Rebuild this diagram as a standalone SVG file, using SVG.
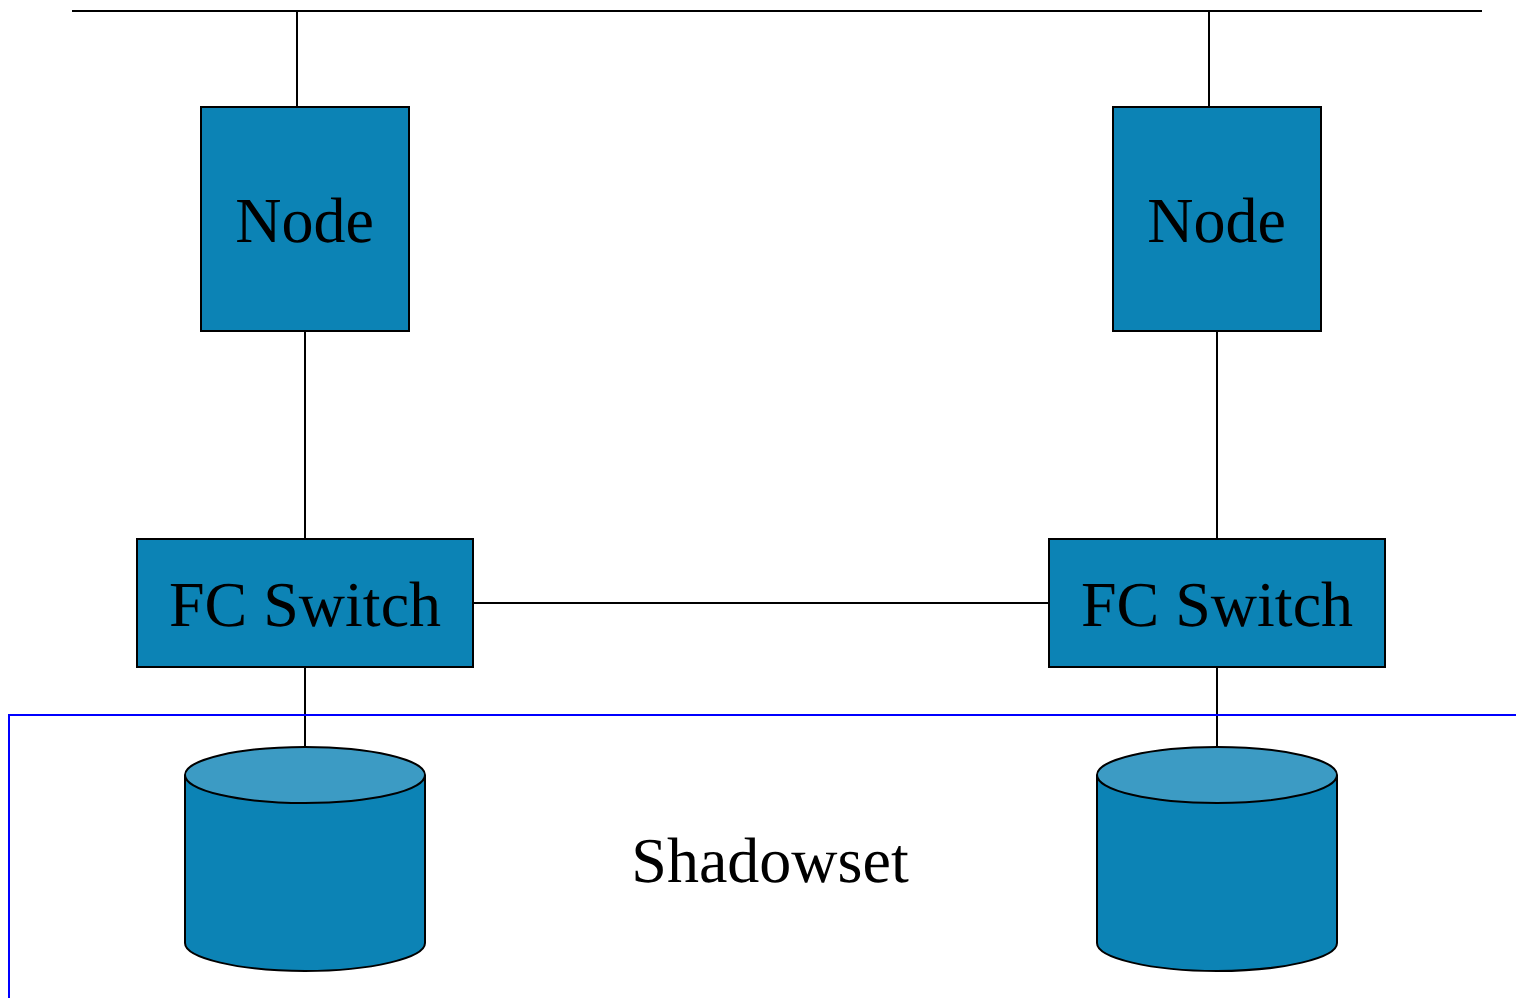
<svg xmlns="http://www.w3.org/2000/svg" width="1516" height="998" viewBox="0 0 1516 998">
<style>
.n{fill:#0c83b5;stroke:#000;stroke-width:2}
.t{fill:#3c9bc4;stroke:#000;stroke-width:2}
.c{fill:none;stroke:#000;stroke-width:2}
text{font-family:"Liberation Serif","Times New Roman",serif;font-size:64px;fill:#000;text-anchor:middle;text-rendering:geometricPrecision}
</style>
<rect width="1516" height="998" fill="#fff"/>
<g id="connectors">
<path class="c" d="M72 11H1482"/>
<path class="c" d="M297 11V107"/>
<path class="c" d="M1209 11V107"/>
<path class="c" d="M305 331V539"/>
<path class="c" d="M1217 331V539"/>
<path class="c" d="M473 603H1049"/>
<path class="c" d="M305 667V747"/>
<path class="c" d="M1217 667V747"/>
</g>
<path id="shadowset-box" d="M1516 715H9V998" fill="none" stroke="#0000ff" stroke-width="2"/>
<g id="node-left"><rect class="n" x="201" y="107" width="208" height="224"/><text x="304.6" y="242.4">Node</text></g>
<g id="node-right"><rect class="n" x="1113" y="107" width="208" height="224"/><text x="1216.6" y="242.4">Node</text></g>
<g id="switch-left"><rect class="n" x="137" y="539" width="336" height="128"/><text x="305" y="626.4">FC Switch</text></g>
<g id="switch-right"><rect class="n" x="1049" y="539" width="336" height="128"/><text x="1217" y="626.4">FC Switch</text></g>
<g id="disk-left"><path class="n" d="M185 775V943C185 958 239 971 305 971S425 958 425 943V775"/><ellipse class="t" cx="305" cy="775" rx="120" ry="28"/></g>
<g id="disk-right"><path class="n" d="M1097 775V943C1097 958 1151 971 1217 971S1337 958 1337 943V775"/><ellipse class="t" cx="1217" cy="775" rx="120" ry="28"/></g>
<text id="shadowset-label" x="770" y="882.4">Shadowset</text>
</svg>
